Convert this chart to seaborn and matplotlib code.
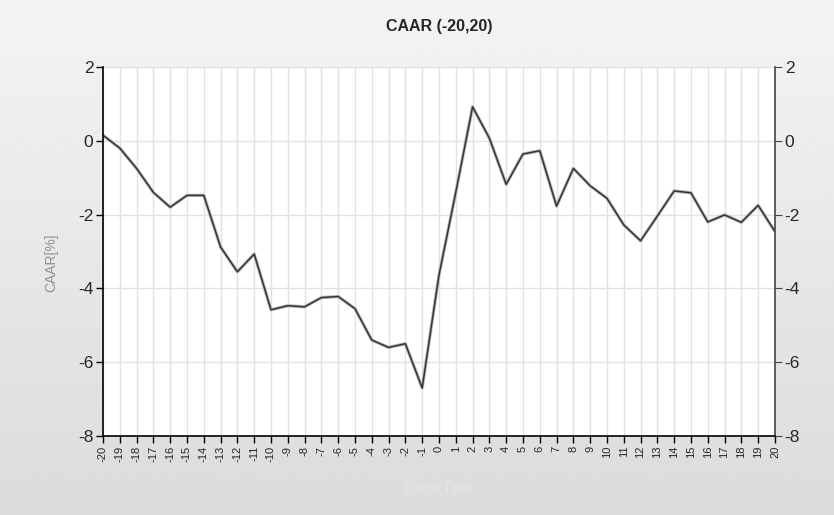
import numpy as np
import pandas as pd
import seaborn as sns
import matplotlib.pyplot as plt

# event window and cumulative abnormal returns (%)
event_time = list(range(-20, 21))
caar = [0.15, -0.2, -0.75, -1.4, -1.8, -1.48, -1.48, -2.88, -3.55, -3.07,
        -4.58, -4.47, -4.5, -4.25, -4.22, -4.55, -5.4, -5.6, -5.5, -6.7,
        -3.64, -1.4, 0.92, 0.07, -1.18, -0.36, -0.27, -1.77, -0.75, -1.22,
        -1.56, -2.28, -2.71, -2.04, -1.36, -1.41, -2.2, -2.01, -2.21, -1.75,
        -2.46]
y_ticks = [-8, -6, -4, -2, 0, 2]

df = pd.DataFrame({"Event Time": event_time, "CAAR": caar})

sns.set_style("whitegrid")
plt.rcParams['font.family'] = ['Liberation Sans', 'DejaVu Sans']
plt.rcParams['axes.unicode_minus'] = False

fig = plt.figure(figsize=(8.34, 5.15), dpi=100)

# grey gradient background
bg = fig.add_axes([0, 0, 1, 1], zorder=-1)
grad = np.linspace(0.955, 0.86, 256).reshape(-1, 1)
bg.imshow(grad, aspect='auto', cmap='gray', vmin=0, vmax=1, extent=[0, 1, 0, 1])
bg.axis('off')

ax = fig.add_axes([0.1235, 0.1534, 0.8057, 0.7166])
ax.set_facecolor('white')
sns.lineplot(data=df, x="Event Time", y="CAAR", ax=ax, color='#b8b8b8', lw=2.4)
sns.lineplot(data=df, x="Event Time", y="CAAR", ax=ax, color='#333333', lw=1.1)

ax.set_xlim(-20, 20)
ax.set_ylim(-8, 2)
ax.set_xticks(event_time)
ax.set_xticklabels([str(t) for t in event_time], rotation=90, fontsize=8)
ax.set_yticks(y_ticks)
ax.tick_params(axis='y', labelsize=12.5)
ax.tick_params(axis='both', direction='out', length=5, width=1, color='black',
               left=True, bottom=True, pad=2)
ax.grid(True, color='#e2e2e2', lw=1)
ax.spines['top'].set_visible(False)
for s in ['left', 'bottom', 'right']:
    ax.spines[s].set_color('black')
    ax.spines[s].set_linewidth(1.2)
ax.spines['right'].set_color('#444444')

ax.set_xlabel("Event Time", color='#e6e6e6', fontsize=10, labelpad=14)
ax.set_ylabel("CAAR[%]", color='#909090', fontsize=10)
ax.yaxis.set_label_coords(-0.066, 0.47)

ax2 = ax.twinx()
ax2.set_ylim(-8, 2)
ax2.set_yticks(y_ticks)
ax2.tick_params(axis='y', labelsize=12.5, direction='out', length=5, color='#444444',
                right=True, pad=2)
ax2.grid(False)
for s in ['top', 'left', 'bottom', 'right']:
    ax2.spines[s].set_visible(False)

ax.set_title("CAAR (-20,20)", fontsize=11.5, fontweight='bold', pad=26)

fig.savefig("out.png", dpi=100)
